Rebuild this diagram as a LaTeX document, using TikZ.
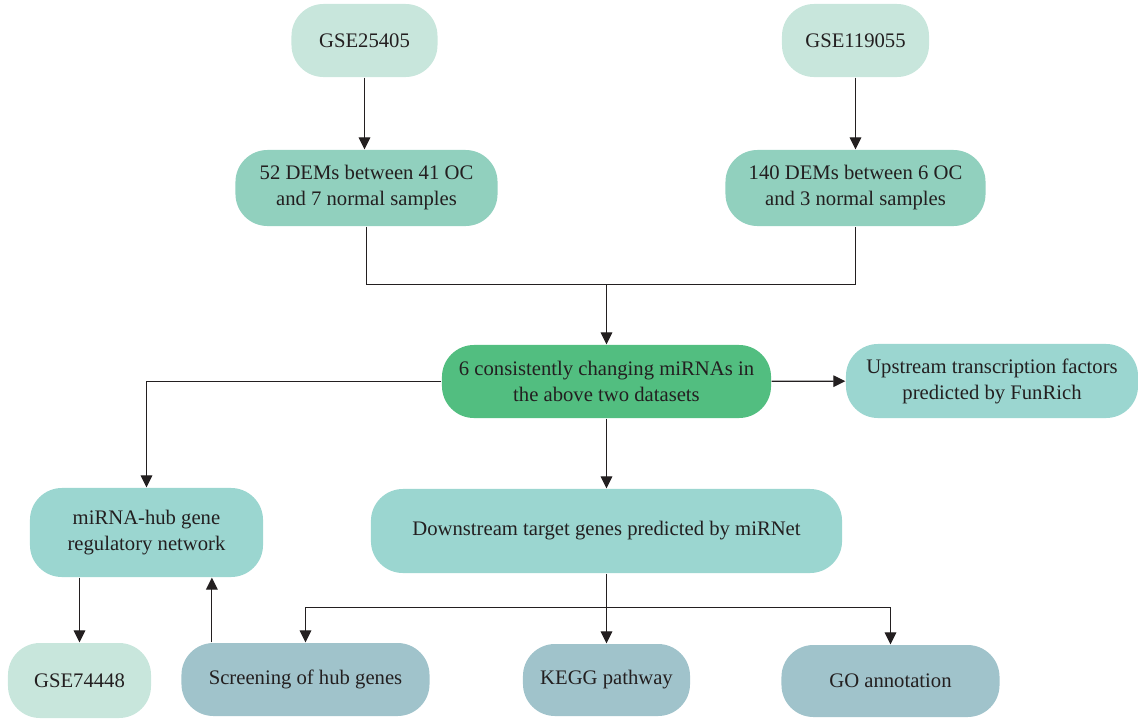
\documentclass[tikz,border=0pt]{standalone}
\usepackage{fontspec}
\setmainfont{Liberation Serif}
\usetikzlibrary{arrows.meta, positioning}
\definecolor{ink}{RGB}{35,31,32}
\definecolor{mintpale}{RGB}{200,230,220}
\definecolor{mintmid}{RGB}{145,208,190}
\definecolor{greenkey}{RGB}{82,190,128}
\definecolor{tealpale}{RGB}{155,214,208}
\definecolor{bluegrey}{RGB}{160,195,203}

\begin{document}
\begin{tikzpicture}[
                x=0.025cm, y=-0.025cm,
                every node/.style={rounded corners=0.8cm, align=center, inner sep=0pt,
                    font=\fontsize{14.7}{18.5}\selectfont},
                gse/.style={fill=mintpale},
                dem/.style={fill=mintmid},
                keyset/.style={fill=greenkey},
                pred/.style={fill=tealpale},
                anal/.style={fill=bluegrey},
                color=ink, line width=0.85pt,
                >={Triangle[length=0.3cm,width=0.29cm]}
            ]
            \useasboundingbox (0,0) rectangle (1138,718);
            \node (G1) [gse, minimum width=3.65cm, minimum height=1.825cm] at (364.5,40.5) {GSE25405};
            \node (G2) [gse, minimum width=3.675cm, minimum height=1.825cm] at (855.5,40.5) {GSE119055};
            \node (D1) [dem, minimum width=6.55cm, minimum height=1.9cm] at (366.5,188) {52 DEMs between 41 OC\\and 7 normal samples};
            \node (D2) [dem, minimum width=6.5cm, minimum height=1.9cm] at (855.5,188) {140 DEMs between 6 OC\\and 3 normal samples};
            \node (M) [keyset, minimum width=8.225cm, minimum height=1.825cm] at (606.5,381.5) {6 consistently changing miRNAs in\\the above two datasets};
            \node (U) [pred, minimum width=7.3cm, minimum height=1.85cm] at (992,381) {Upstream transcription factors\\predicted by FunRich};
            \node (N) [pred, minimum width=5.825cm, minimum height=2.225cm] at (146.5,532.5) {miRNA-hub gene\\regulatory network};
            \node (T) [pred, minimum width=11.775cm, minimum height=2.1cm] at (606.5,531) {Downstream target genes predicted by miRNet};
            \node (G3) [gse, minimum width=3.575cm, minimum height=1.875cm] at (79.5,680.5) {GSE74448};
            \node (S) [anal, minimum width=6.2cm, minimum height=1.825cm] at (305.5,679.5) {Screening of hub genes};
            \node (K) [anal, minimum width=4.175cm, minimum height=1.8cm] at (606.5,680) {KEGG pathway};
            \node (O) [anal, minimum width=5.45cm, minimum height=1.8cm] at (890.5,681) {GO annotation};
            \coordinate (J) at (606.5,284.5);
            \coordinate (B) at (606.5,607.5);
            \coordinate (s1) at ([xshift=0.775cm]S.north west);
            % top part
            \draw[->] (G1) -- (G1 |- D1.north);
            \draw[->] (G2) -- (G2 |- D2.north);
            \draw (D1.south) |- (J) -| (D2.south);
            \draw[->] (J) -- (M);
            % from the miRNAs
            \draw[->] (M) -- (U);
            \draw[->] (M.west) -| (N.north);
            \draw[->] (M) -- (T);
            % bottom part
            \draw[->] (N.south -| G3) -- (G3);
            \draw[->] (s1) -- (s1 |- N.south);
            \draw (T) -- (B);
            \draw[->] (B) -| (S);
            \draw[->] (B) -- (K);
            \draw[->] (B) -| (O);
        \end{tikzpicture}
\end{document}
